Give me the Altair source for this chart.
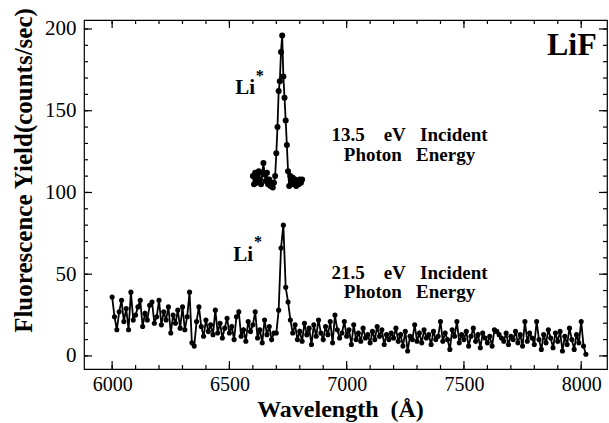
import altair as alt
import pandas as pd

# ---------------- data ----------------
# lower spectrum (21.5 eV incident photon energy), 10 A steps starting at 6000 A
lower_start = 6000
lower_step = 10
lower_counts = [
    36, 24, 16, 27, 34, 21, 29, 16, 39, 22,   # 6000-6090
    25, 30, 34, 18, 26, 22, 31, 33, 20, 24,   # 6100-6190
    34, 19, 27, 22, 30, 14, 25, 20, 28, 17,   # 6200-6290
    30, 16, 24, 39, 8, 6, 21, 30, 18, 12,     # 6300-6390
    22, 15, 19, 13, 28, 14, 20, 11, 17, 23,   # 6400-6490
    14, 18, 10, 24, 27, 12, 16, 9, 21, 15,    # 6500-6590
    19, 27, 11, 16, 8, 22, 13, 18, 10, 14,    # 6600-6690
    14, 28, 66, 80, 42, 33, 22, 14, 19, 10,   # 6700-6790
    15, 9, 20, 13, 17, 7, 19, 12, 22, 14,     # 6800-6890
    10, 18, 13, 21, 8, 25, 16, 11, 14, 21,    # 6900-6990
    12, 16, 7, 19, 10, 14, 9, 17, 11, 13,     # 7000-7090
    8, 15, 10, 18, 12, 16, 7, 13, 10, 14,     # 7100-7190
    11, 17, 9, 13, 6, 15, 3, 12, 10, 19,      # 7200-7290
    9, 14, 8, 16, 11, 13, 7, 15, 10, 12,      # 7300-7390
    21, 9, 14, 10, 4, 16, 12, 21, 8, 13,      # 7400-7490
    10, 15, 6, 12, 17, 9, 13, 5, 14, 11,      # 7500-7590
    8, 12, 6, 16, 15, 13, 11, 9, 14, 7,       # 7600-7690
    12, 10, 15, 8, 13, 6, 21, 9, 14, 11,      # 7700-7790
    7, 21, 10, 4, 13, 8, 16, 11, 5, 14,       # 7800-7890
    9, 15, 3, 12, 7, 17, 10, 4, 13, 8,        # 7900-7990
    21, 6, 1,                                 # 8000-8020
]

# upper spectrum (13.5 eV incident photon energy)
upper_wavelength = [
    6600, 6605, 6610, 6615, 6620, 6625, 6630, 6635, 6640, 6645,
    6650, 6655, 6660, 6665, 6670, 6675, 6680, 6685, 6690, 6695,
    6700, 6705, 6710, 6715, 6720, 6725, 6730, 6735, 6740, 6745,
    6750, 6755, 6760, 6765, 6770, 6775, 6780, 6785, 6790, 6795,
    6800, 6805, 6810,
]
upper_counts = [
    110, 105, 112, 106, 111, 113, 108, 105, 112, 118,
    111, 107, 112, 105, 108, 104, 106, 103, 106, 110,
    124, 140, 162, 168, 186, 196, 171, 158, 144, 129,
    113, 104, 110, 106, 109, 105, 108, 104, 107, 105,
    108, 106, 108,
]

# tick values
x_major = [6000, 6500, 7000, 7500, 8000]
x_minor = list(range(6000, 8001, 100))
y_major = [0, 50, 100, 150, 200]
y_minor = list(range(0, 201, 10))

NB = "\u00a0"
# annotations
ann_text = ["13.5" + NB * 4 + "eV" + NB * 3 + "Incident", "Photon" + NB * 3 + "Energy",
            "21.5" + NB * 4 + "eV" + NB * 3 + "Incident", "Photon" + NB * 3 + "Energy"]
ann_x = [7268, 7268, 7268, 7268]
ann_y = [135, 123, 51, 39]

li_x = [6609, 6601]
li_y = [160, 58]
star_x = [6612, 6605]
star_y = [168, 66.5]

lif_text = ["LiF"]
lif_x = [7960]
lif_y = [190]

# ---------------- chart ----------------
W, H = 523, 349
lower_df = pd.DataFrame({
    "wl": [lower_start + lower_step * i for i in range(len(lower_counts))],
    "counts": lower_counts,
})
upper_df = pd.DataFrame({"wl": upper_wavelength, "counts": upper_counts})
ann_df = pd.DataFrame({"text": ann_text, "wl": ann_x, "counts": ann_y})
li_df = pd.DataFrame({"text": ["Li", "Li"], "wl": li_x, "counts": li_y})
star_df = pd.DataFrame({"text": ["*", "*"], "wl": star_x, "counts": star_y})
lif_df = pd.DataFrame({"text": lif_text, "wl": lif_x, "counts": lif_y})

FONT = "Liberation Serif"
xs = alt.Scale(domain=[5880, 8110], nice=False, zero=False)
ys = alt.Scale(domain=[-8, 205.5], nice=False, zero=False)

x_axis = alt.Axis(
    values=x_major, format="d", ticks=False, tickSize=0, domain=False, grid=False,
    labelFont=FONT, labelFontSize=20, labelColor="black", labelPadding=5,
    title="Wavelength" + NB * 2 + "(Å)", titleFont=FONT, titleFontSize=24,
    titleFontWeight="bold", titleColor="black", titleX=256, titleY=40,
    titleBaseline="middle", titleAlign="center",
)
y_axis = alt.Axis(
    values=y_major, format="d", ticks=False, tickSize=0, domain=False, grid=False,
    labelFont=FONT, labelFontSize=21, labelColor="black", labelPadding=8,
    title="Fluorescence Yield(counts/sec)", titleFont=FONT, titleFontSize=25,
    titleFontWeight="bold", titleColor="black", titleX=-61, titleY=150,
    titleAngle=270, titleBaseline="middle", titleAlign="center",
)

lower_line = alt.Chart(lower_df).mark_line(color="black", strokeWidth=1.8).encode(
    x=alt.X("wl:Q", scale=xs, axis=x_axis),
    y=alt.Y("counts:Q", scale=ys, axis=y_axis),
)
lower_pts = alt.Chart(lower_df).mark_circle(color="black", size=26, opacity=1).encode(
    x=alt.X("wl:Q", scale=xs, axis=None),
    y=alt.Y("counts:Q", scale=ys, axis=None),
)
upper_line = alt.Chart(upper_df).mark_line(color="black", strokeWidth=1.8).encode(
    x=alt.X("wl:Q", scale=xs, axis=None),
    y=alt.Y("counts:Q", scale=ys, axis=None),
)
upper_pts = alt.Chart(upper_df).mark_circle(color="black", size=36, opacity=1).encode(
    x=alt.X("wl:Q", scale=xs, axis=None),
    y=alt.Y("counts:Q", scale=ys, axis=None),
)


def xticks(values, y0, y1):
    return alt.Chart(pd.DataFrame({"v": values})).mark_rule(
        color="black", strokeWidth=1.2
    ).encode(x=alt.X("v:Q", scale=xs, axis=None), y=alt.value(y0), y2=alt.value(y1))


def yticks(values, x0, x1):
    return alt.Chart(pd.DataFrame({"v": values})).mark_rule(
        color="black", strokeWidth=1.2
    ).encode(y=alt.Y("v:Q", scale=ys, axis=None), x=alt.value(x0), x2=alt.value(x1))


tick_layers = [
    xticks(x_major, H, H - 8), xticks(x_minor, H, H - 4),
    xticks(x_major, 0, 8), xticks(x_minor, 0, 4),
    yticks(y_major, 0, 8), yticks(y_minor, 0, 4),
    yticks(y_major, W, W - 8), yticks(y_minor, W, W - 4),
]


def text_layer(df, size, align, baseline):
    return alt.Chart(df).mark_text(
        font=FONT, fontSize=size, fontWeight="bold", color="black",
        align=align, baseline=baseline,
    ).encode(
        x=alt.X("wl:Q", scale=xs, axis=None),
        y=alt.Y("counts:Q", scale=ys, axis=None),
        text="text:N",
    )


ann = text_layer(ann_df, 19, "center", "middle")
li = text_layer(li_df, 21, "right", "alphabetic")
star = text_layer(star_df, 16, "left", "alphabetic")
lif = text_layer(lif_df, 32, "center", "middle")

chart = alt.layer(
    lower_line, lower_pts, upper_line, upper_pts, *tick_layers, ann, li, star, lif
).resolve_axis(x="independent", y="independent").properties(
    width=W, height=H,
    autosize=alt.AutoSizeParams(type="none"),
    padding={"left": 84, "top": 20, "right": 2, "bottom": 54},
    background="white",
).configure_view(stroke="black", strokeWidth=1.2)

chart.save("out.html", embed_options={"renderer": "svg", "actions": False})
